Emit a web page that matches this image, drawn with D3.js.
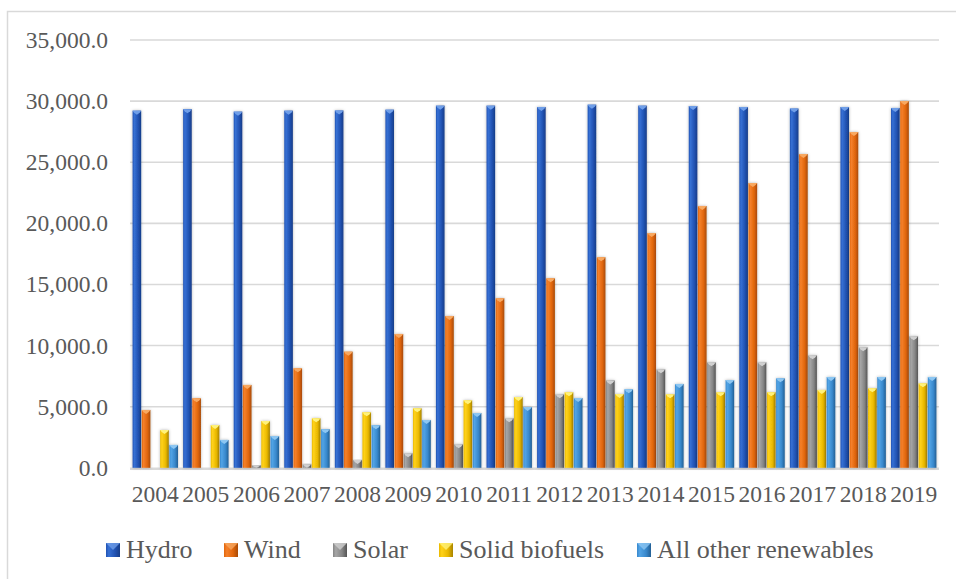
<!DOCTYPE html>
<html>
<head>
<meta charset="utf-8">
<script src="https://cdn.jsdelivr.net/npm/d3@7"></script>
</head>
<body style="margin:0">
<svg id="chart" width="956" height="579" style="display:block"></svg>
<script>
// Renewable generation by source, 2004-2019
const years = ["2004","2005","2006","2007","2008","2009","2010","2011","2012","2013","2014","2015","2016","2017","2018","2019"];
const seriesNames = ["Hydro", "Wind", "Solar", "Solid biofuels", "All other renewables"];
const hydro  = [29220, 29340, 29140, 29220, 29230, 29300, 29630, 29630, 29520, 29710, 29630, 29600, 29520, 29390, 29520, 29440];
const wind   = [4730, 5690, 6780, 8140, 9500, 10950, 12420, 13870, 15500, 17220, 19200, 21420, 23300, 25670, 27470, 30000];
const solar  = [0, 0, 200, 290, 640, 1190, 1920, 4050, 6010, 7150, 8060, 8630, 8630, 9200, 9860, 10760];
const biofuels = [3090, 3500, 3830, 4050, 4550, 4870, 5520, 5790, 6180, 6030, 6010, 6180, 6180, 6370, 6500, 6910];
const others = [1870, 2280, 2600, 3160, 3490, 3910, 4480, 4970, 5710, 6420, 6860, 7180, 7320, 7430, 7430, 7430];
const yTicks = [0, 5000, 10000, 15000, 20000, 25000, 30000, 35000];

const seriesValues = [hydro, wind, solar, biofuels, others];
// light / base / dark shades for each series' bevelled bars
const palette = [
  { light: "#3670d4", base: "#2152b2", dark: "#173d88", cap: "#6f9ee8" },
  { light: "#f5802a", base: "#e0660c", dark: "#a84a06", cap: "#f8a860" },
  { light: "#a6a6a6", base: "#858585", dark: "#555555", cap: "#d0d0d0" },
  { light: "#ffd21a", base: "#e9b800", dark: "#a88400", cap: "#fff27a" },
  { light: "#52a4e6", base: "#3888cc", dark: "#235f94", cap: "#8cc6f2" }
];
const FONT = "\"Liberation Serif\"";
const TEXT_COLOR = "#595959";

const svg = d3.select("#chart");
const defs = svg.append("defs");

palette.forEach((c, i) => {
  const g = defs.append("linearGradient").attr("id", "grad" + i)
    .attr("x1", "0").attr("x2", "1").attr("y1", "0").attr("y2", "0");
  g.append("stop").attr("offset", "0%").attr("stop-color", c.base);
  g.append("stop").attr("offset", "20%").attr("stop-color", c.light);
  g.append("stop").attr("offset", "65%").attr("stop-color", c.base);
  g.append("stop").attr("offset", "100%").attr("stop-color", c.dark);
});
const shadow = defs.append("filter").attr("id", "soft")
  .attr("x", "-50%").attr("y", "-10%").attr("width", "200%").attr("height", "120%");
shadow.append("feDropShadow").attr("dx", 0).attr("dy", 0)
  .attr("stdDeviation", 1.4).attr("flood-color", "#000").attr("flood-opacity", 0.3);

// chart frame
svg.append("rect")
  .attr("x", 7.5).attr("y", 11.5).attr("width", 1000).attr("height", 700)
  .attr("fill", "none").attr("stroke", "#d9d9d9").attr("stroke-width", 1.5);

const plot = { left: 130, right: 939, top: 40, bottom: 467.8 };

const y = d3.scaleLinear().domain([0, 35000]).range([plot.bottom, plot.top]);
const x0 = d3.scaleBand().domain(years).range([plot.left, plot.right])
  .paddingInner(0.09).paddingOuter(0.045);
const x1 = d3.scaleBand().domain(seriesNames).range([0, x0.bandwidth()]);

// gridlines
svg.append("g").selectAll("line").data(yTicks.filter(d => d > 0)).join("line")
  .attr("x1", plot.left).attr("x2", plot.right)
  .attr("y1", d => y(d)).attr("y2", d => y(d))
  .attr("stroke", "#d9d9d9").attr("stroke-width", 1.6);

// floor line
svg.append("line")
  .attr("x1", plot.left).attr("x2", plot.right)
  .attr("y1", y(0) + 1).attr("y2", y(0) + 1)
  .attr("stroke", "#d9d9d9").attr("stroke-width", 2.5);

// y axis labels
const yAxis = d3.axisLeft(y).tickValues(yTicks).tickFormat(d3.format(",.1f"))
  .tickSize(0).tickPadding(22);
const yg = svg.append("g").attr("transform", `translate(${plot.left},0)`).call(yAxis);
yg.attr("font-family", null).attr("font-size", null);
yg.select(".domain").remove();
yg.selectAll("text")
  .style("font-family", FONT).style("font-size", "23.5px").style("fill", TEXT_COLOR);

// x axis labels
const xAxis = d3.axisBottom(x0).tickSize(0).tickPadding(18);
const xg = svg.append("g").attr("transform", `translate(0,${plot.bottom})`).call(xAxis);
xg.attr("font-family", null).attr("font-size", null);
xg.select(".domain").remove();
xg.selectAll("text")
  .style("font-family", FONT).style("font-size", "23.5px").style("fill", TEXT_COLOR);

// bars
const rows = years.map((yr, i) => ({
  year: yr,
  vals: seriesNames.map((s, k) => ({ series: s, k, value: seriesValues[k][i] }))
}));

const groups = svg.append("g").selectAll("g").data(rows).join("g")
  .attr("transform", d => `translate(${x0(d.year)},0)`);

const bars = groups.selectAll("g").data(d => d.vals.filter(v => v.value > 0)).join("g");
bars.append("rect")
  .attr("x", d => x1(d.series) + 0.3)
  .attr("width", x1.bandwidth() - 0.6)
  .attr("y", d => y(d.value))
  .attr("height", d => y(0) - y(d.value))
  .attr("fill", d => `url(#grad${d.k})`)
  .attr("filter", "url(#soft)");
// bevelled top cap
bars.append("path")
  .attr("d", d => {
    const xl = x1(d.series) + 0.3, xr = xl + x1.bandwidth() - 0.6, yt = y(d.value);
    const h = Math.min(4, y(0) - yt);
    const xm = (xl + xr) / 2;
    return `M${xl},${yt}L${xr},${yt}L${xr - 1.5},${yt + h * 0.5}L${xm},${yt + h}L${xl + 1.5},${yt + h * 0.5}Z`;
  })
  .attr("fill", d => palette[d.k].cap);

// legend
const legendX = [106, 224, 333, 439, 637];
const legend = svg.append("g").selectAll("g").data(seriesNames).join("g")
  .attr("transform", (d, i) => `translate(${legendX[i]},0)`);
legend.append("rect")
  .attr("x", 0).attr("y", 543).attr("width", 14).attr("height", 14)
  .attr("fill", (d, i) => `url(#grad${i})`);
legend.append("path")
  .attr("d", "M0,543L14,543L7,550Z")
  .attr("fill", (d, i) => palette[i].cap).attr("opacity", 0.8);
legend.append("text")
  .attr("x", 20).attr("y", 558)
  .style("font-family", FONT).style("font-size", "26px").style("fill", TEXT_COLOR)
  .text(d => d);
</script>
</body>
</html>
